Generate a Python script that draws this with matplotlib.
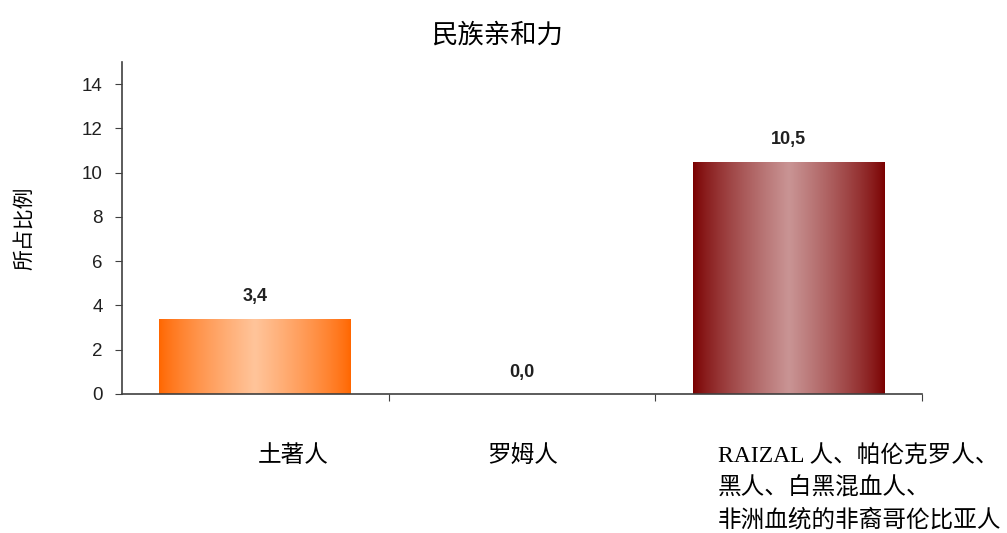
import numpy as np
import matplotlib
matplotlib.use("Agg")
import matplotlib.pyplot as plt
from matplotlib.colors import LinearSegmentedColormap
import matplotlib.transforms as mtransforms

plt.rcParams['font.family'] = ['Liberation Sans', 'Noto Sans CJK SC', 'DejaVu Sans']

# data
categories = ["土著人", "罗姆人", "RAIZAL 人、帕伦克罗人、\n黑人、白黑混血人、\n非洲血统的非裔哥伦比亚人"]
values = [3.4, 0.0, 10.5]
value_labels = ["3,4", "0,0", "10,5"]
edge_colors = ["#FF6600", "#FF6600", "#7A0000"]
mid_colors = ["#FFC49A", "#FFC49A", "#C99494"]
yticks = [0, 2, 4, 6, 8, 10, 12, 14]

fig = plt.figure(figsize=(10.07, 5.33), dpi=100)
ax = fig.add_axes([0.1212, 0.2608, 0.7944, 0.6229])

x = np.arange(len(categories))
bars = ax.bar(x, values, width=0.72, color="none", edgecolor="none", zorder=2)

# horizontal gradient inside each bar
grad = np.linspace(0, 1, 256)
profile = 1 - np.abs(grad - 0.5) * 2  # 0 at edges, 1 in middle
profile = profile ** 0.8
for b, c0, c1 in zip(bars, edge_colors, mid_colors):
    if b.get_height() <= 0:
        continue
    cmap = LinearSegmentedColormap.from_list("g", [c0, c1])
    x0, w, h = b.get_x(), b.get_width(), b.get_height()
    im = ax.imshow(profile[np.newaxis, :], cmap=cmap, aspect="auto",
                   extent=[x0, x0 + w, 0, h], zorder=2, interpolation="bilinear")
    im.set_clip_path(b)

for xi, v, lab in zip(x, values, value_labels):
    ax.text(xi, v + 0.6, lab, ha="center", va="bottom", fontsize=13,
            fontweight="bold", color="#202020")

ax.set_xlim(-0.5, 2.5)
ax.set_ylim(0, 15)
ax.set_yticks(yticks)
ax.tick_params(axis="y", labelsize=13.5, length=5, color="#404040", labelcolor="#202020", pad=9)

# x ticks at category boundaries, labels as texts
ax.set_xticks([0.5, 1.5, 2.5])
ax.set_xticklabels([])
ax.tick_params(axis="x", length=5, color="#404040")

label_offsets = [0.01, -0.131, -0.265]
trans = mtransforms.blended_transform_factory(ax.transData, ax.transAxes)
for xi, cat, off in zip(x, categories, label_offsets):
    ax.text(xi + off, -0.155, cat, transform=trans, ha="left", va="top",
            fontsize=17, family=["Liberation Serif", "Noto Sans CJK SC"],
            linespacing=1.55, color="#000000")

for s in ["top", "right"]:
    ax.spines[s].set_visible(False)
for s in ["left", "bottom"]:
    ax.spines[s].set_color("#404040")
    ax.spines[s].set_linewidth(1.2)

ax.set_ylabel("所占比例", fontsize=15, family=["Noto Sans CJK SC"], labelpad=34)
ax.set_title("民族亲和力", fontsize=19, family=["Noto Sans CJK SC"], pad=14, x=0.469)

fig.savefig("out.png", dpi=100)
